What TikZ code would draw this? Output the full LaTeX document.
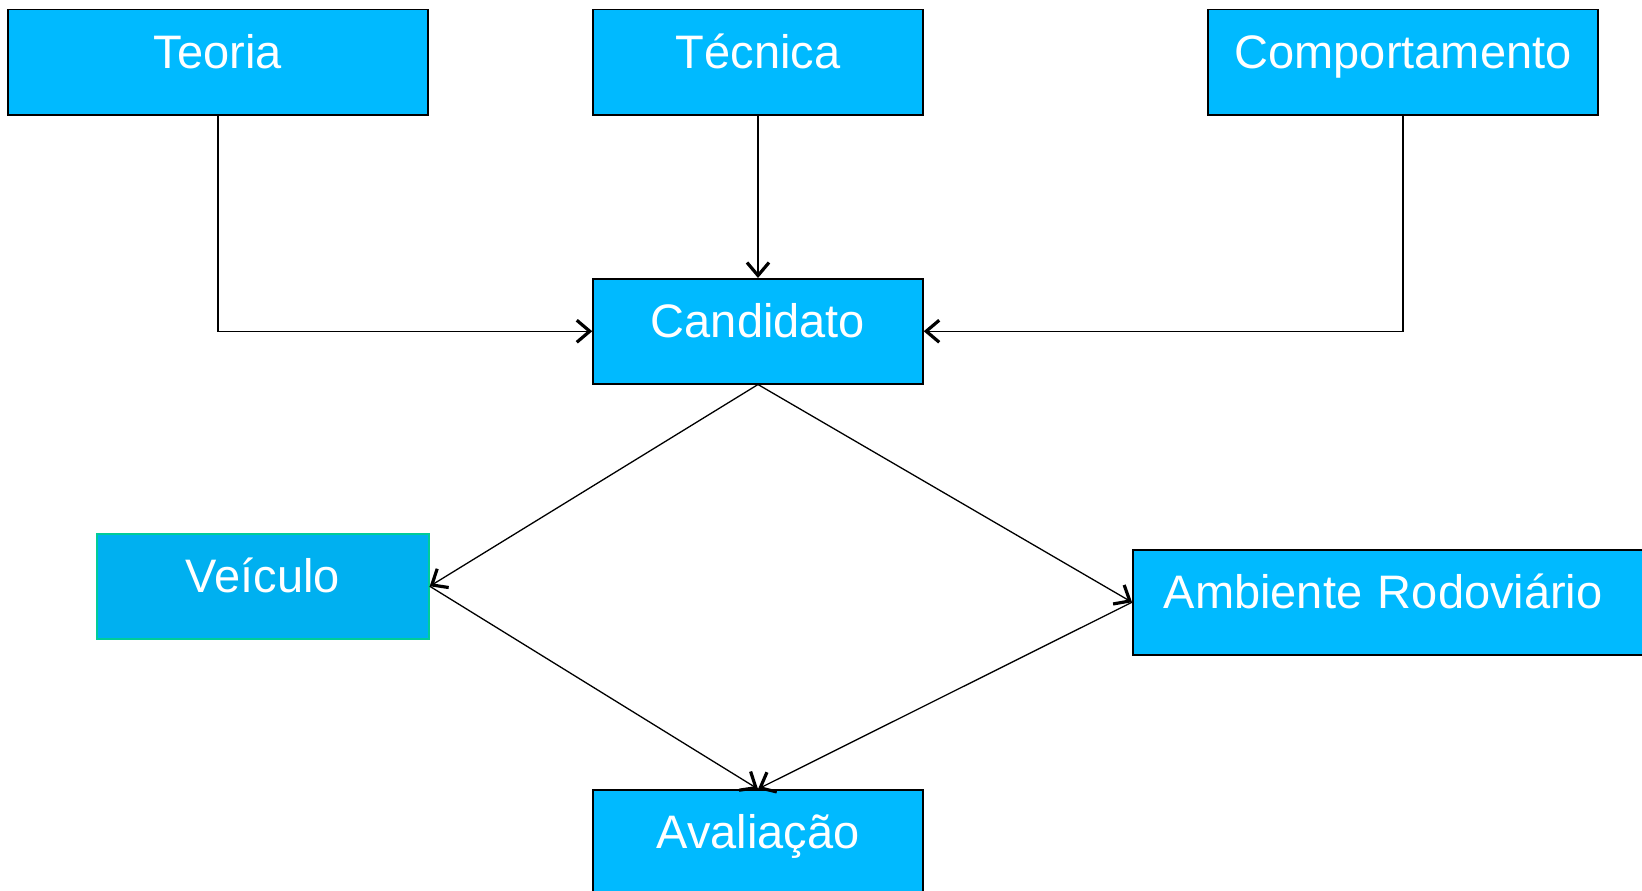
\documentclass[tikz,border=0pt]{standalone}
\usepackage{fontspec}
\setmainfont{Liberation Sans}
\usetikzlibrary{arrows.meta}
\definecolor{boxblue}{RGB}{0,186,255}
\definecolor{carblue}{RGB}{0,176,240}
\definecolor{carline}{RGB}{0,204,153}
\begin{document}
\begin{tikzpicture}[x=1pt,y=-1pt,
  box/.style={draw=black, line width=1.5pt, fill=boxblue, text=white, inner xsep=0pt, inner ysep=0pt,
    text height=59pt, text depth=46pt, anchor=north, font=\fontsize{47}{56}\selectfont},
  link/.style={line width=1.3pt, -{Straight Barb[length=13pt,width=22pt,line width=3.2pt]}}]
\useasboundingbox (0,0) rectangle (1642,891);
\clip (0,0) rectangle (1642,891);
\fill[white] (0,0) rectangle (1642,891);
\node[box, minimum width=420pt] (teoria) at (218,9) {Teoria};
\node[box, minimum width=330pt] (tecnica) at (758,9) {Técnica};
\node[box, minimum width=390pt] (comport) at (1403,9) {Comportamento};
\node[box, minimum width=330pt] (cand) at (758,278) {Candidato};
\node[box, minimum width=332pt, fill=carblue, draw=carline] (veiculo) at (263,533) {Veículo};
\node[box, anchor=north west, text width=528pt, align=left, inner xsep=31pt] (ambiente) at (1132,549) {Ambiente Rodoviário};
\node[box, minimum width=330pt] (aval) at (758,789) {Avaliação};
\draw[link] (teoria.south) |- (cand.west);
\draw[link] (tecnica.south) -- (cand.north);
\draw[link] (comport.south) |- (cand.east);
\draw[link] (cand.south) -- (veiculo.east);
\draw[link] (cand.south) -- (ambiente.west);
\draw[link] (veiculo.east) -- (aval.north);
\draw[link] (ambiente.west) -- (aval.north);
\end{tikzpicture}
\end{document}
